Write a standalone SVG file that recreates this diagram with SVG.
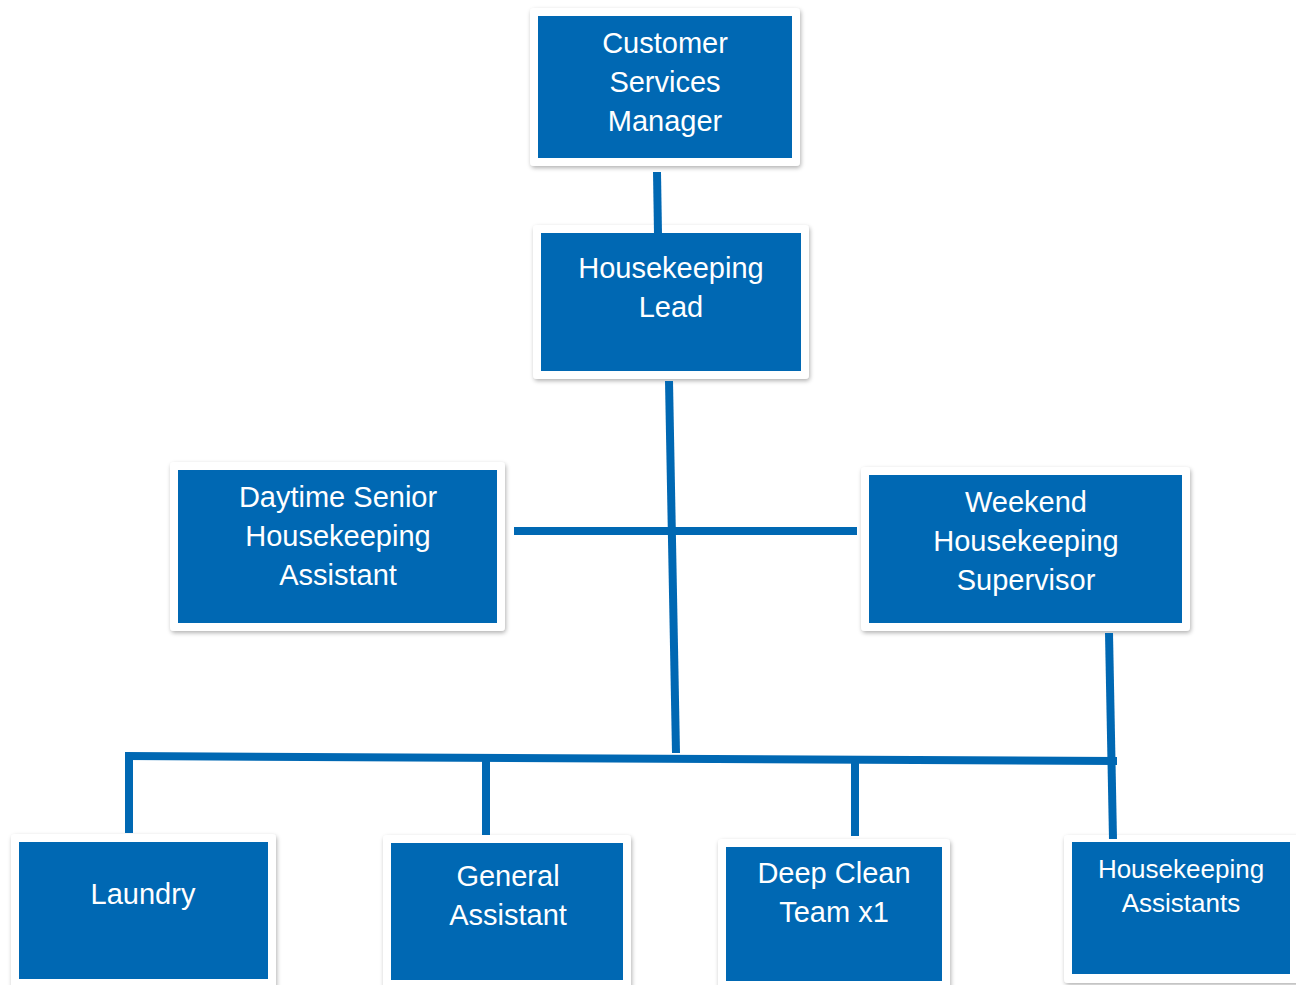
<svg xmlns="http://www.w3.org/2000/svg" width="1296" height="985" viewBox="0 0 1296 985">
<defs>
<filter id="sh" x="-10%" y="-10%" width="120%" height="130%">
<feDropShadow dx="1" dy="2" stdDeviation="2" flood-color="#000" flood-opacity="0.3"/>
</filter>
</defs>
<style>
.frame{fill:#fff;filter:url(#sh)}
.box{fill:#0068b3}
.t{fill:#fff;font-family:"Liberation Sans",Arial,sans-serif;font-size:29px;text-anchor:middle}
.ts{font-size:26px}
.c{stroke:#0068b3;stroke-width:8;fill:none;stroke-linecap:butt}
</style>
<rect width="1296" height="985" fill="#fff"/>
<g id="n1">
<rect class="frame" x="530" y="8" width="270" height="158" rx="4"/>
<rect class="box" x="538" y="16" width="254" height="142"/>
<text class="t" x="665" y="53">Customer</text>
<text class="t" x="665" y="92">Services</text>
<text class="t" x="665" y="131">Manager</text>
</g>
<g id="n2">
<rect class="frame" x="533" y="225" width="276" height="154" rx="4"/>
<rect class="box" x="541" y="233" width="260" height="138"/>
<text class="t" x="671" y="278">Housekeeping</text>
<text class="t" x="671" y="317">Lead</text>
</g>
<g id="n3">
<rect class="frame" x="170" y="462" width="335" height="169" rx="4"/>
<rect class="box" x="178" y="470" width="319" height="153"/>
<text class="t" x="338" y="507">Daytime Senior</text>
<text class="t" x="338" y="546">Housekeeping</text>
<text class="t" x="338" y="585">Assistant</text>
</g>
<g id="n4">
<rect class="frame" x="861" y="467" width="329" height="164" rx="4"/>
<rect class="box" x="869" y="475" width="313" height="148"/>
<text class="t" x="1026" y="512">Weekend</text>
<text class="t" x="1026" y="551">Housekeeping</text>
<text class="t" x="1026" y="590">Supervisor</text>
</g>
<g id="n5">
<rect class="frame" x="11" y="834" width="265" height="160" rx="4"/>
<rect class="box" x="19" y="842" width="249" height="137"/>
<text class="t" x="143" y="904">Laundry</text>
</g>
<g id="n6">
<rect class="frame" x="383" y="835" width="248" height="160" rx="4"/>
<rect class="box" x="391" y="843" width="232" height="137"/>
<text class="t" x="508" y="886">General</text>
<text class="t" x="508" y="925">Assistant</text>
</g>
<g id="n7">
<rect class="frame" x="718" y="839" width="232" height="156" rx="4"/>
<rect class="box" x="726" y="847" width="216" height="134"/>
<text class="t" x="834" y="883">Deep Clean</text>
<text class="t" x="834" y="922">Team x1</text>
</g>
<g id="n8">
<rect class="frame" x="1064" y="835" width="240" height="148" rx="4"/>
<rect class="box" x="1072" y="842" width="218" height="132"/>
<text class="t ts" x="1181" y="878">Housekeeping</text>
<text class="t ts" x="1181" y="912">Assistants</text>
</g>
<g id="connectors">
<line class="c" x1="657" y1="172" x2="658" y2="234"/>
<line class="c" x1="669" y1="381" x2="676" y2="753"/>
<line class="c" x1="514" y1="531" x2="857" y2="531"/>
<line class="c" x1="1109" y1="633" x2="1113" y2="839"/>
<line class="c" x1="125" y1="756" x2="1117" y2="761"/>
<line class="c" x1="129" y1="756" x2="129" y2="833"/>
<line class="c" x1="486" y1="758" x2="486" y2="835"/>
<line class="c" x1="855" y1="760" x2="855" y2="836"/>
</g>
</svg>
